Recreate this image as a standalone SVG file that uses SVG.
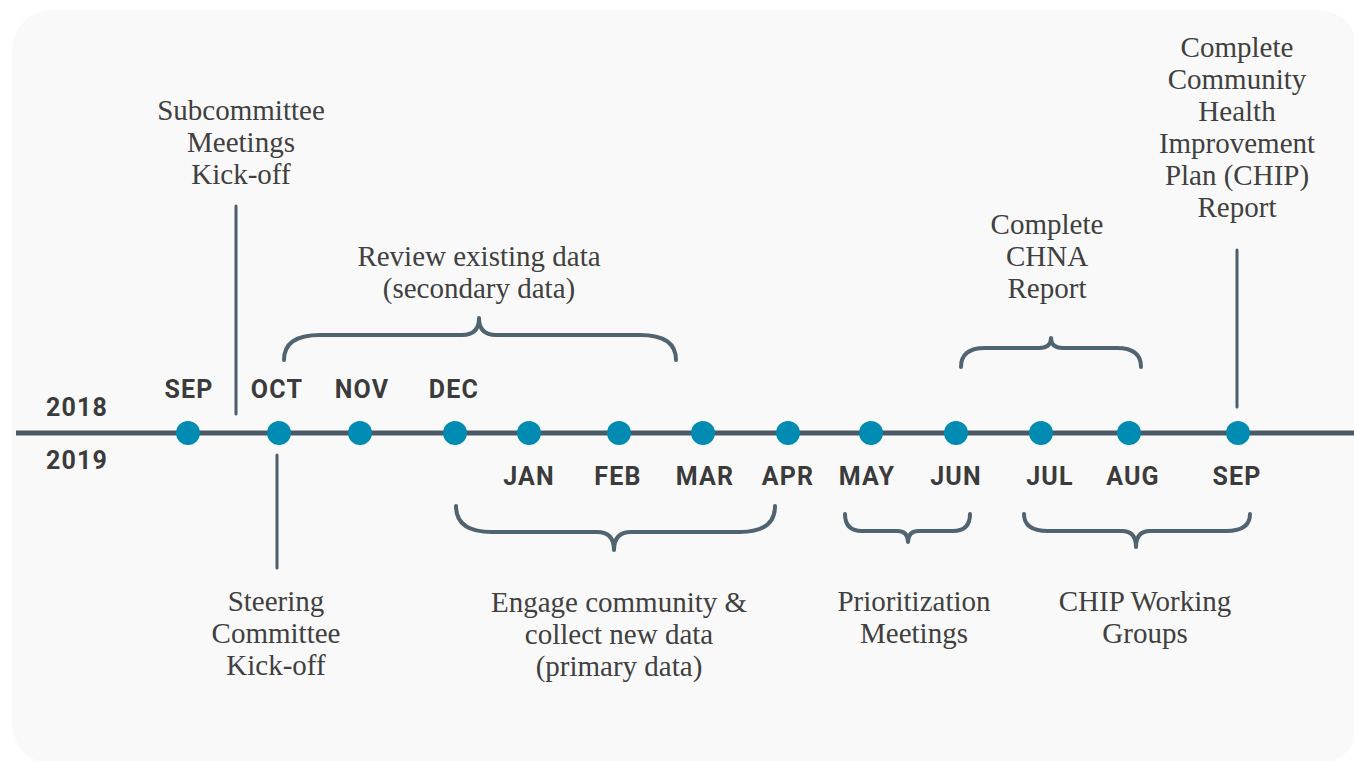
<svg xmlns="http://www.w3.org/2000/svg" width="1354" height="761" viewBox="0 0 1354 761">
<style>
.bg{fill:#f9f9f9}
.axis{stroke:#4a5966;stroke-width:5;fill:none}
.dot{fill:#008cb2}
.mon{font-family:Roboto,"DejaVu Sans",sans-serif;font-weight:700;font-size:25px;letter-spacing:1.2px;fill:#3b3b3b;text-anchor:middle}
.lbl{font-family:"Liberation Serif",serif;font-size:29px;fill:#404040;text-anchor:middle}
.brace{stroke:#506370;stroke-width:4;fill:none;stroke-linecap:round;stroke-linejoin:round}
.tick{stroke:#4e5f6b;stroke-width:3;fill:none;stroke-linecap:round}
</style>
<rect class="bg" x="12" y="10" width="1346" height="754" rx="40"/>
<g id="connectors">
<line class="axis" x1="16" y1="433" x2="1354" y2="433"/>
<line class="tick" x1="236" y1="206" x2="236" y2="414"/>
<line class="tick" x1="277" y1="455" x2="277" y2="568"/>
<line class="tick" x1="1237" y1="250" x2="1237" y2="407"/>
<path class="brace" d="M284,360 Q284,335 320,335 L462,335 Q479,335 479,318 Q479,335 496,335 L640,335 Q676,335 676,360"/>
<path class="brace" d="M456,506 Q456,532 492,532 L597,532 Q614,532 614,550 Q614,532 631,532 L740,532 Q775,532 775,506"/>
<path class="brace" d="M845,514 Q845,531 862,531 L897,531 Q908,531 908,542 Q908,531 919,531 L953,531 Q970,531 970,514"/>
<path class="brace" d="M1024,514 Q1024,531 1048,531 L1122,531 Q1136,531 1136,547 Q1136,531 1150,531 L1226,531 Q1250,531 1250,514"/>
<path class="brace" d="M961,367 Q961,348 985,348 L1039,348 Q1051,348 1051,338 Q1051,348 1063,348 L1117,348 Q1141,348 1141,367"/>
</g>
<g id="dots">
<circle class="dot" cx="188" cy="433" r="12"/>
<circle class="dot" cx="279" cy="433" r="12"/>
<circle class="dot" cx="360" cy="433" r="12"/>
<circle class="dot" cx="455" cy="433" r="12"/>
<circle class="dot" cx="529" cy="433" r="12"/>
<circle class="dot" cx="619" cy="433" r="12"/>
<circle class="dot" cx="703" cy="433" r="12"/>
<circle class="dot" cx="788" cy="433" r="12"/>
<circle class="dot" cx="871" cy="433" r="12"/>
<circle class="dot" cx="956" cy="433" r="12"/>
<circle class="dot" cx="1041" cy="433" r="12"/>
<circle class="dot" cx="1129" cy="433" r="12"/>
<circle class="dot" cx="1238" cy="433" r="12"/>
</g>
<g id="years">
<text class="mon" x="77" y="416">2018</text>
<text class="mon" x="77" y="469">2019</text>
</g>
<g id="months">
<text class="mon" x="189" y="398">SEP</text>
<text class="mon" x="277" y="398">OCT</text>
<text class="mon" x="362" y="398">NOV</text>
<text class="mon" x="454" y="398">DEC</text>
<text class="mon" x="529" y="485">JAN</text>
<text class="mon" x="618" y="485">FEB</text>
<text class="mon" x="705" y="485">MAR</text>
<text class="mon" x="788" y="485">APR</text>
<text class="mon" x="867" y="485">MAY</text>
<text class="mon" x="956" y="485">JUN</text>
<text class="mon" x="1050" y="485">JUL</text>
<text class="mon" x="1133" y="485">AUG</text>
<text class="mon" x="1237" y="485">SEP</text>
</g>
<g id="subcommittee">
<text class="lbl" x="241" y="120">Subcommittee</text>
<text class="lbl" x="241" y="152">Meetings</text>
<text class="lbl" x="241" y="184">Kick-off</text>
</g>
<g id="review">
<text class="lbl" x="479" y="266">Review existing data</text>
<text class="lbl" x="479" y="298">(secondary data)</text>
</g>
<g id="steering">
<text class="lbl" x="276" y="611">Steering</text>
<text class="lbl" x="276" y="643">Committee</text>
<text class="lbl" x="276" y="675">Kick-off</text>
</g>
<g id="engage">
<text class="lbl" x="619" y="612">Engage community &amp;</text>
<text class="lbl" x="619" y="644">collect new data</text>
<text class="lbl" x="619" y="676">(primary data)</text>
</g>
<g id="prioritization">
<text class="lbl" x="914" y="611">Prioritization</text>
<text class="lbl" x="914" y="643">Meetings</text>
</g>
<g id="chip-working">
<text class="lbl" x="1145" y="611">CHIP Working</text>
<text class="lbl" x="1145" y="643">Groups</text>
</g>
<g id="chna">
<text class="lbl" x="1047" y="234">Complete</text>
<text class="lbl" x="1047" y="266">CHNA</text>
<text class="lbl" x="1047" y="298">Report</text>
</g>
<g id="chip-report">
<text class="lbl" x="1237" y="57">Complete</text>
<text class="lbl" x="1237" y="89">Community</text>
<text class="lbl" x="1237" y="121">Health</text>
<text class="lbl" x="1237" y="153">Improvement</text>
<text class="lbl" x="1237" y="185">Plan (CHIP)</text>
<text class="lbl" x="1237" y="217">Report</text>
</g>
</svg>
